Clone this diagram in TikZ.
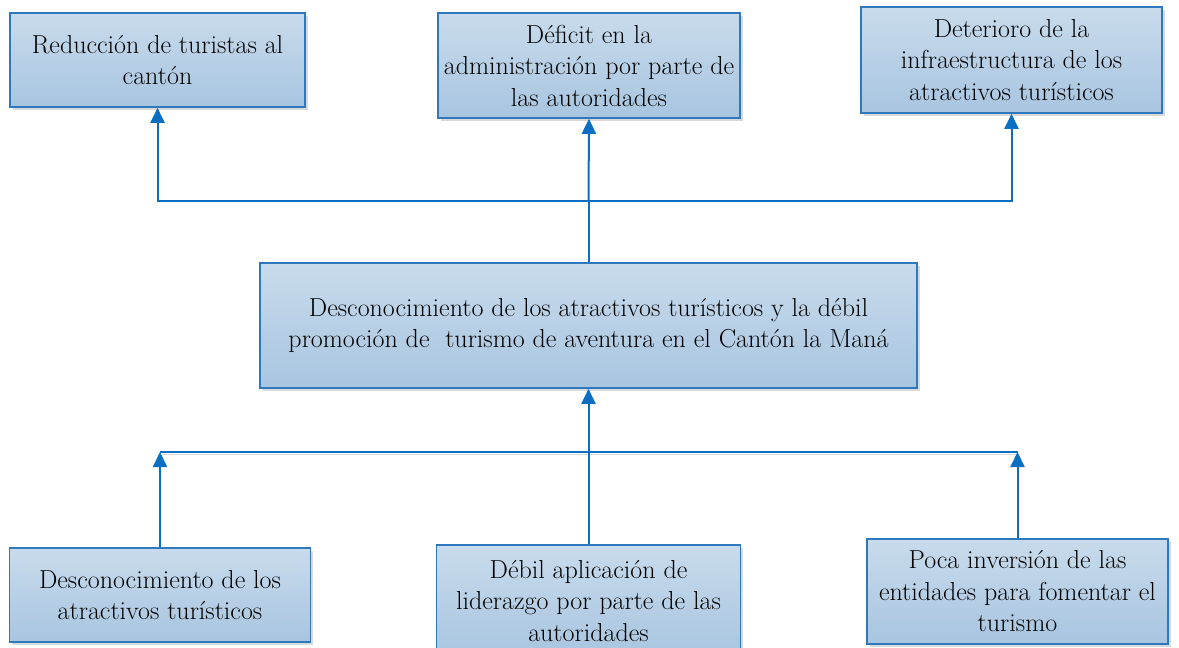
\documentclass[tikz,border=0pt]{standalone}
\usetikzlibrary{arrows.meta,shadows,calc}
\definecolor{boxborder}{HTML}{2E78BE}
\definecolor{boxtop}{HTML}{C8DBEC}
\definecolor{boxbot}{HTML}{A8C5E0}
\definecolor{linecol}{HTML}{0A6FC2}
\tikzset{
  pbox/.style={draw=boxborder, line width=1.6pt, top color=boxtop, bottom color=boxbot,
    rectangle, align=center, inner sep=0pt, text=black,
    font=\fontsize{26}{31.5}\selectfont,
    drop shadow={shadow xshift=2.5pt, shadow yshift=-2.5pt, opacity=0.25, fill=black!60}},
  conn/.style={draw=linecol, line width=2pt},
  arr/.style={conn, -{Triangle[width=14pt,length=15pt]}}
}
\begin{document}
\begin{tikzpicture}[x=1pt,y=-1pt]
\useasboundingbox (0,0) rectangle (1179,648);
% top row
\node[pbox, minimum width=295pt, minimum height=94pt] (r1) at (157.5,60)
  {Reducción de turistas al\\cantón};
\node[pbox, minimum width=302pt, minimum height=105pt] (r2) at (589,65.5)
  {Déficit en la\\administración por parte de\\las autoridades};
\node[pbox, minimum width=301pt, minimum height=106pt] (r3) at (1011.5,60)
  {Deterioro de la\\infraestructura de los\\atractivos turísticos};
% middle
\node[pbox, minimum width=657pt, minimum height=125pt] (mid) at (588.5,325.5)
  {Desconocimiento de los atractivos turísticos y la débil\\promoción de\ \ turismo de aventura en el Cantón la Maná};
% bottom row
\node[pbox, minimum width=301pt, minimum height=94pt] (c1) at (160,595)
  {Desconocimiento de los\\atractivos turísticos};
\node[pbox, minimum width=304pt, minimum height=112pt] (c2) at (588.5,601)
  {Débil aplicación de\\liderazgo por parte de las\\autoridades};
\node[pbox, minimum width=301pt, minimum height=105pt] (c3) at (1017.5,591.5)
  {Poca inversión de las\\entidades para fomentar el\\turismo};
% junctions
\coordinate (tj) at (588.5,201);
\coordinate (bj) at (588.5,452);
% top connectors
\draw[conn] (mid.north) -- (tj);
\draw[arr] (tj) -- (r2.south);
\draw[arr] (tj) -| (r1.south);
\draw[arr] (tj) -| (r3.south);
% bottom connectors
\draw[black!15, line width=1.5pt] ($(c1.north |- bj)+(2,2.5)$) -- ($(c3.north |- bj)+(2,2.5)$);
\draw[conn] (c1.north |- bj) -- (c3.north |- bj);
\draw[arr] (c1.north) -- (c1.north |- bj);
\draw[arr] (c3.north) -- (c3.north |- bj);
\draw[arr] (c2.north) -- (mid.south);
\end{tikzpicture}
\end{document}
